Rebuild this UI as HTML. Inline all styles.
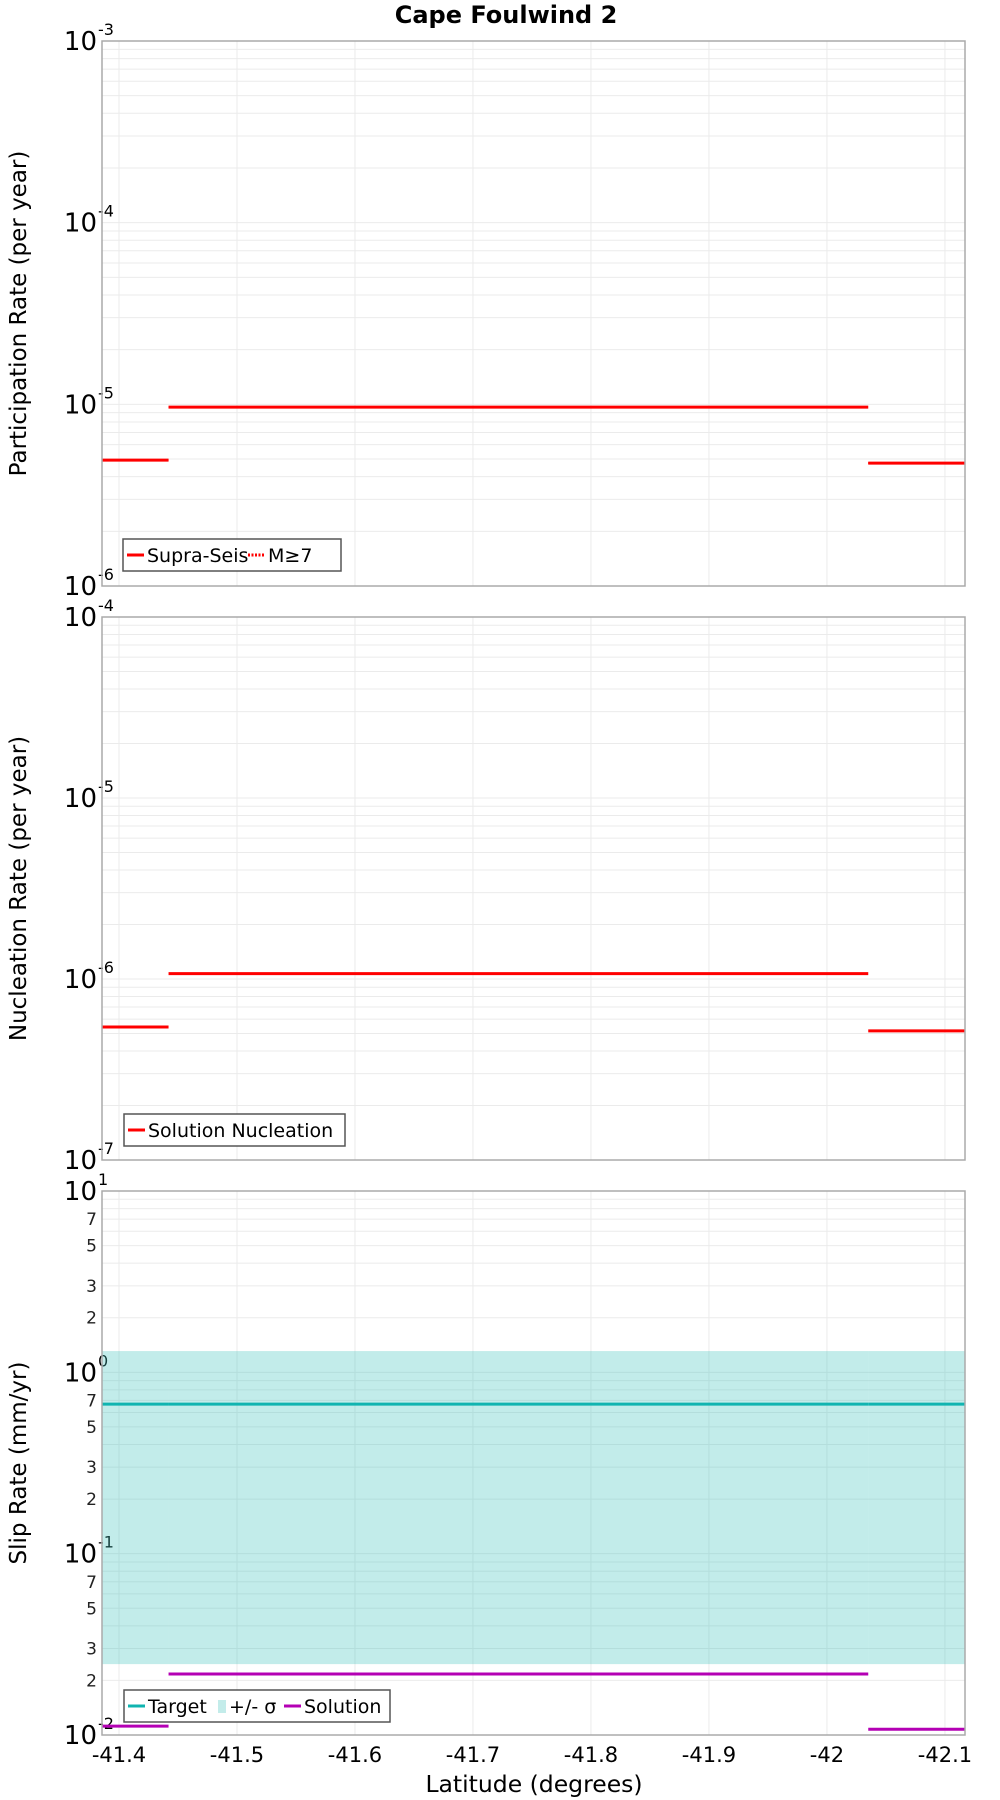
<!DOCTYPE html>
<html><head><meta charset="utf-8"><style>
body{margin:0;background:#fff;}
svg{display:block;font-family:"DejaVu Sans","Liberation Sans",sans-serif;}
</style></head><body>
<svg id="chart" width="1000" height="1800" viewBox="0 0 1000 1800" xmlns="http://www.w3.org/2000/svg">
<text x="506" y="23" text-anchor="middle" font-size="24" font-weight="bold">Cape Foulwind 2</text>
<text x="534" y="1792" text-anchor="middle" font-size="23.5">Latitude (degrees)</text>
</svg>
<script>
const xTicks=[-41.4,-41.5,-41.6,-41.7,-41.8,-41.9,-42,-42.1];
const xTickLabels=["-41.4","-41.5","-41.6","-41.7","-41.8","-41.9","-42","-42.1"];
const segStarts=[-41.3856,-41.442,-42.035];
const segEnds=[-41.442,-42.035,-42.117];
const partSupra=[4.93e-6,9.66e-6,4.75e-6];
const partM7=[4.93e-6,9.66e-6,4.75e-6];
const nuclSol=[5.43e-7,1.07e-6,5.17e-7];
const slipTarget=[0.668,0.668,0.668];
const slipSigmaHi=[1.31,1.31,1.31];
const slipSigmaLo=[0.0246,0.0246,0.0246];
const slipSol=[0.0112,0.0217,0.01076];

const NS="http://www.w3.org/2000/svg";
const svg=document.getElementById('chart');
const L=102,R=965;
const xMin=-41.3856,xMax=-42.117;
function X(v){return L+(v-xMin)/(xMax-xMin)*(R-L);}
function mk(tag,attrs,parent){const e=document.createElementNS(NS,tag);for(const k in attrs)e.setAttribute(k,attrs[k]);(parent||svg).appendChild(e);return e;}

function panel(name,top,bot,dMin,dMax,minorLabels,title){
  const g=mk('g',{});
  
  
  const Y=v=>bot-(Math.log10(v)-dMin)/(dMax-dMin)*(bot-top);
  for(let d=dMin;d<dMax;d++){for(let m=1;m<=9;m++){const v=m*Math.pow(10,d);const y=Y(v);
    const ln=mk('line',{x1:L,x2:R,y1:y,y2:y,stroke:'#ebebeb','stroke-width':1},g);
    
    }}
  xTicks.forEach(t=>{const x=X(t);const ln=mk('line',{x1:x,x2:x,y1:top,y2:bot,stroke:'#ebebeb','stroke-width':1},g);
    
    });
  for(let d=dMin;d<=dMax;d++){const y=Y(Math.pow(10,d));
    const t=mk('text',{x:97,y:y+9,'text-anchor':'end','font-size':26},g);t.textContent='10';
    
    
    const s=mk('text',{x:98,y:y-6,'font-size':16},g);s.textContent=String(d);
    
    
    if(minorLabels&&d<dMax){[2,3,5,7].forEach(m=>{const yy=Y(m*Math.pow(10,d));
      const mt=mk('text',{x:97,y:yy+6,'text-anchor':'end','font-size':17,fill:'#222'},g);mt.textContent=String(m);
      
      });}
  }
  const ty=(top+bot)/2;
  const tt=mk('text',{x:26,y:ty,'text-anchor':'middle','font-size':23,transform:`rotate(-90 26 ${ty})`},g);tt.textContent=title;
  
  
  return {g,Y};
}
function frame(g,top,bot){const r=mk('rect',{x:L,y:top,width:R-L,height:bot-top,fill:'none',stroke:'#aaa','stroke-width':1.5},g);
  
  }
function segs(g,Y,vals,color,w,name,dash){vals.forEach((v,i)=>{const y=Y(v);
  const a={x1:X(segStarts[i]),x2:X(segEnds[i]),y1:y,y2:y,stroke:color,'stroke-width':w};if(dash)a['stroke-dasharray']=dash;
  const ln=mk('line',a,g);
  
  });}
function legend(g,x,y,w,items){const lg=mk('g',{},g);
  
  
  mk('rect',{x:x,y:y,width:w,height:32,fill:'#fff',stroke:'#555','stroke-width':1.5},lg);
  let cx=x+4;items.forEach(it=>{
    const e=mk('g',{},lg);
    
    
    if(it.box){mk('rect',{x:cx+2,y:y+10,width:8,height:13,fill:it.color},e);cx+=13;}
    else{const a={x1:cx,x2:cx+17,y1:y+16,y2:y+16,stroke:it.color,'stroke-width':3};if(it.dash)a['stroke-dasharray']=it.dash;mk('line',a,e);cx+=20;}
    const t=mk('text',{x:cx,y:y+23,'font-size':19},e);t.textContent=it.label;cx+=it.tw;});}

let p=panel('participation-panel',41,586,-6,-3,false,'Participation Rate (per year)');
segs(p.g,p.Y,partSupra,'#ff0000',3,'supra-seis-line');
segs(p.g,p.Y,partM7,'#ff0000',2,'m7-line','2,1.5');
frame(p.g,41,586);
legend(p.g,123,539,218,[{color:'#f00',label:'Supra-Seis',tw:101},{color:'#f00',dash:'2,1.5',label:'M≥7',tw:50}]);

p=panel('nucleation-panel',617,1160,-7,-4,false,'Nucleation Rate (per year)');
segs(p.g,p.Y,nuclSol,'#ff0000',3,'solution-nucleation-line');
frame(p.g,617,1160);
legend(p.g,124,1114,221,[{color:'#f00',label:'Solution Nucleation',tw:190}]);

p=panel('slip-rate-panel',1191,1735,-2,1,true,'Slip Rate (mm/yr)');
slipSigmaHi.forEach((v,i)=>{const y1=p.Y(v),y2=p.Y(slipSigmaLo[i]);
  const r=mk('rect',{x:X(segStarts[i]),y:y1,width:X(segEnds[i])-X(segStarts[i]),height:y2-y1,fill:'rgba(64,196,190,0.32)'},p.g);
  
  });
segs(p.g,p.Y,slipTarget,'#10b4b0',3,'target-line');
segs(p.g,p.Y,slipSol,'#b400b4',3,'solution-line');
frame(p.g,1191,1735);
legend(p.g,124,1690,266,[{color:'#10b4b0',label:'Target',tw:68},{color:'#c3ecea',box:true,label:'+/- σ',tw:55},{color:'#b400b4',label:'Solution',tw:80}]);

xTicks.forEach((t,i)=>{const tx=mk('text',{x:X(t),y:1762,'text-anchor':'middle','font-size':21});tx.textContent=xTickLabels[i];
  
  });
</script>
</body></html>
